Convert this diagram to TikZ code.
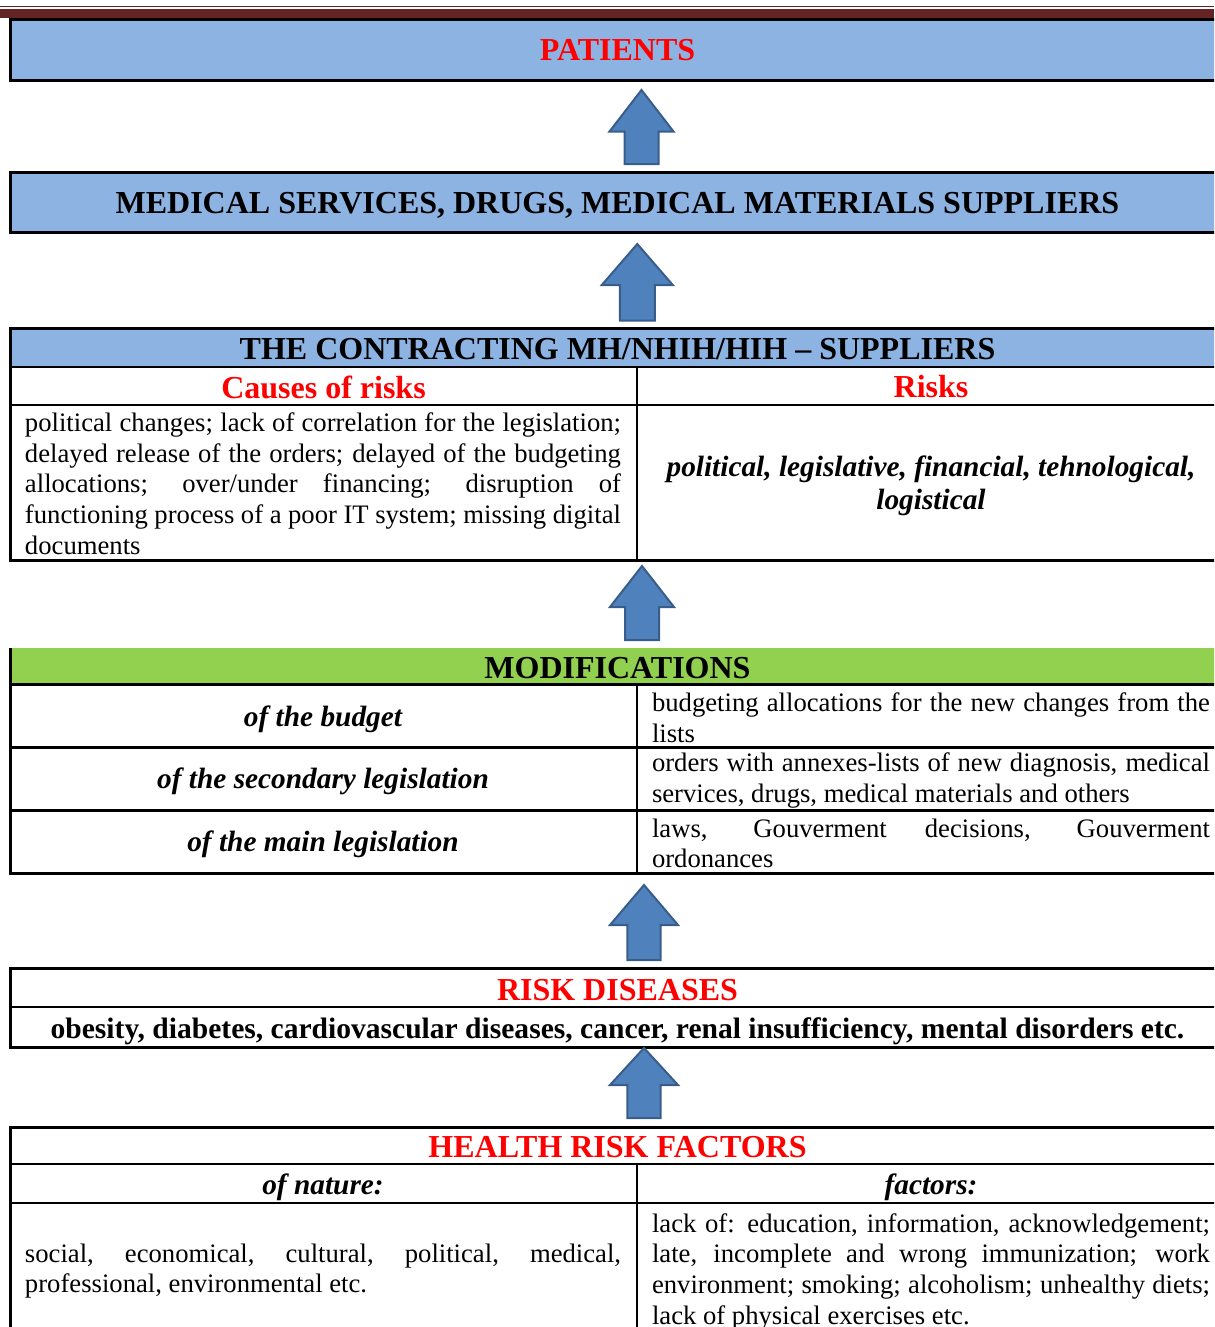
\documentclass[tikz,border=0pt]{standalone}
\usepackage{fontspec}
\setmainfont{Liberation Serif}
\usetikzlibrary{positioning}
\definecolor{boxblue}{HTML}{8DB3E2}
\definecolor{boxgreen}{HTML}{92D050}
\definecolor{arrowfill}{HTML}{4F81BD}
\definecolor{arrowline}{HTML}{385D8A}
\definecolor{bandred}{HTML}{632423}
\definecolor{titlered}{HTML}{FF0000}
\hyphenpenalty=10000
\exhyphenpenalty=10000
\tikzset{
  frame/.style={draw=black, line width=1.35pt},
  rule/.style={draw=black, line width=0.95pt},
  title/.style={font=\bfseries\fontsize{14.4}{16.5}\selectfont, inner sep=0pt},
  redtitle/.style={title, text=titlered},
  subtitle/.style={font=\bfseries\itshape\fontsize{13.2}{14.9}\selectfont, inner sep=0pt, align=center},
  celltext/.style={font=\fontsize{12}{13.8}\selectfont, align=justify, inner sep=0pt},
  blockarrow/.style={fill=arrowfill, draw=arrowline, line width=0.9pt, line join=miter}
}
\newcommand{\uparrowblock}[6]{% cx, tip, head base, head half, shaft half, bottom
  \draw[blockarrow] (#1,#2) -- (#1+#4,#3) -- (#1+#5,#3) -- (#1+#5,#6)
    -- (#1-#5,#6) -- (#1-#5,#3) -- (#1-#4,#3) -- cycle;}
\begin{document}
\begin{tikzpicture}[x=0.45pt, y=-0.45pt]
\useasboundingbox (0,0) rectangle (1214,1327);
\clip (0,0) rectangle (1214,1327);

\fill[bandred] (0,5.8) rectangle (1214,7.3);
\fill[bandred] (0,9) rectangle (1214,17.6);

\draw[frame, fill=boxblue] (10.5,19.7) rectangle (1230,80.8);
\node[redtitle] (patients) at (617.5,50.5) {PATIENTS};

\uparrowblock{641.5}{90}{131.5}{32}{17}{164}

\draw[frame, fill=boxblue] (10.5,172.5) rectangle (1230,232.5);
\node[title] (suppliers) at (617.5,205) {MEDICAL SERVICES, DRUGS, MEDICAL MATERIALS SUPPLIERS};

\uparrowblock{637.3}{244}{285}{35.5}{17.5}{320.5}

\fill[boxblue] (10.5,328.3) rectangle (1230,367);
\draw[rule] (10.5,367) -- (1230,367);
\draw[rule] (10.5,405) -- (1230,405);
\draw[rule] (637,367) -- (637,560);
\draw[frame] (10.5,328.3) rectangle (1230,560);
\node[title] (contract) at (617.5,349) {THE CONTRACTING MH/NHIH/HIH -- SUPPLIERS};
\node[redtitle] (causes) at (323.5,387) {Causes of risks};
\node[redtitle] (risks) at (931,387) {Risks};
\node[celltext, text width=268.2pt] (causestext) at (323,483.5) {political changes; lack of correlation for the legislation;\linebreak
delayed release of the orders; delayed of the budgeting\linebreak
allocations; over/under financing; disruption of\linebreak
functioning process of a poor IT system; missing digital\linebreak
documents};
\node[subtitle] (riskstext) at (931,485.5) {political, legislative, financial, tehnological,\\ logistical};

\uparrowblock{642}{566}{607}{32}{17}{640}

\fill[boxgreen] (10.5,647.7) rectangle (1230,684.5);
\draw[rule] (10.5,684.5) -- (1230,684.5);
\draw[rule] (10.5,747.5) -- (1230,747.5);
\draw[rule] (10.5,810.5) -- (1230,810.5);
\draw[rule] (637,684.5) -- (637,873);
\draw[frame] (10.5,647.7) -- (10.5,873) -- (1230,873);
\node[title] (modif) at (617.5,668) {MODIFICATIONS};
\node[subtitle] (budget) at (323,719) {of the budget};
\node[subtitle] (secondary) at (323,781) {of the secondary legislation};
\node[subtitle] (mainlaw) at (323,844) {of the main legislation};
\node[celltext, text width=251.1pt] (budgettext) at (931,717.5) {budgeting allocations for the new changes from the\linebreak lists};
\node[celltext, text width=251.1pt] (secondarytext) at (931,780.5) {orders with annexes-lists of new diagnosis, medical\linebreak services, drugs, medical materials and others};
\node[celltext, text width=251.1pt] (mainlawtext) at (931,843.5) {laws, Gouverment decisions, Gouverment\linebreak ordonances};

\uparrowblock{644}{885}{925}{34}{16.7}{960}

\draw[rule] (10.5,1007) -- (1230,1007);
\draw[frame] (10.5,968) rectangle (1230,1047.5);
\node[redtitle] (diseases) at (617.5,990) {RISK DISEASES};
\node[font=\bfseries\fontsize{13.3}{15.3}\selectfont, inner sep=0pt] (diseaseslist) at (617.5,1031) {obesity, diabetes, cardiovascular diseases, cancer, renal insufficiency, mental disorders etc.};

\uparrowblock{644}{1048}{1085}{34}{16.7}{1118}

\draw[rule] (10.5,1164) -- (1230,1164);
\draw[rule] (10.5,1203) -- (1230,1203);
\draw[rule] (637,1164) -- (637,1360);
\draw[frame] (10.5,1127) rectangle (1230,1360);
\node[redtitle] (factors) at (617.5,1147) {HEALTH RISK FACTORS};
\node[subtitle] (nature) at (323,1187) {of nature:};
\node[subtitle] (factorshead) at (931,1187) {factors:};
\node[celltext, text width=268.2pt] (naturetext) at (323,1271) {social, economical, cultural, political, medical,\linebreak professional, environmental etc.};
\node[celltext, text width=251.1pt] (factorstext) at (931,1271.5) {lack of: education, information, acknowledgement;\linebreak
late, incomplete and wrong immunization; work\linebreak
environment; smoking; alcoholism; unhealthy diets;\linebreak
lack of physical exercises etc.};
\end{tikzpicture}
\end{document}
